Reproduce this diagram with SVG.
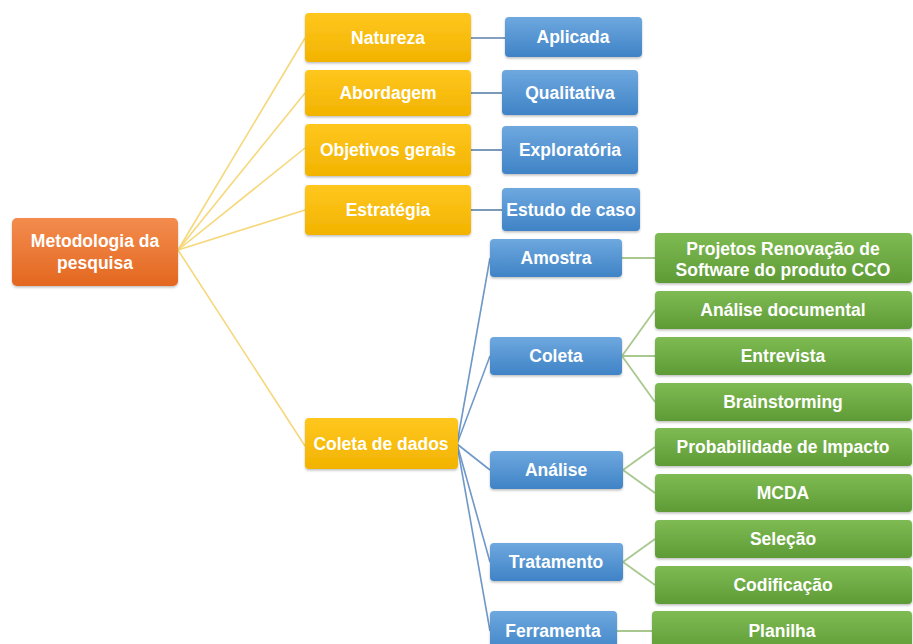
<svg xmlns="http://www.w3.org/2000/svg" width="913" height="644" viewBox="0 0 913 644">
  <defs>
    <linearGradient id="gOrange" x1="0" y1="0" x2="0" y2="1">
      <stop offset="0" stop-color="#F38C4E"/>
      <stop offset="1" stop-color="#E3671F"/>
    </linearGradient>
    <linearGradient id="gYellow" x1="0" y1="0" x2="0" y2="1">
      <stop offset="0" stop-color="#FFC71E"/>
      <stop offset="1" stop-color="#F2B300"/>
    </linearGradient>
    <linearGradient id="gBlue" x1="0" y1="0" x2="0" y2="1">
      <stop offset="0" stop-color="#6EA8DF"/>
      <stop offset="1" stop-color="#3F83C6"/>
    </linearGradient>
    <linearGradient id="gGreen" x1="0" y1="0" x2="0" y2="1">
      <stop offset="0" stop-color="#7FBB53"/>
      <stop offset="1" stop-color="#5E9B36"/>
    </linearGradient>
    <filter id="shadow" x="-10%" y="-20%" width="120%" height="150%">
      <feDropShadow dx="0" dy="1.5" stdDeviation="1.2" flood-color="#000" flood-opacity="0.25"/>
    </filter>
  </defs>
  <style>
    .box { filter: url(#shadow); }
    .orange { fill: url(#gOrange); }
    .yellow { fill: url(#gYellow); }
    .blue { fill: url(#gBlue); }
    .green { fill: url(#gGreen); }
    text { font-family: "Liberation Sans", Arial, sans-serif; font-weight: bold; font-size: 17.5px; fill: #FFFFFF; text-anchor: middle; }
    .lnY { stroke: #F6D77A; stroke-width: 1.6; fill: none; }
    .lnD { stroke: #5B80A8; stroke-width: 1.6; fill: none; }
    .lnB { stroke: #6E98C8; stroke-width: 1.6; fill: none; }
    .lnG { stroke: #A8C890; stroke-width: 1.8; fill: none; }
  </style>
  <rect width="913" height="644" fill="#FFFFFF"/>

  <!-- connectors -->
  <g id="connectors">
    <line class="lnY" x1="178" y1="250" x2="305" y2="38"/>
    <line class="lnY" x1="178" y1="250" x2="305" y2="93"/>
    <line class="lnY" x1="178" y1="250" x2="305" y2="148"/>
    <line class="lnY" x1="178" y1="250" x2="305" y2="210"/>
    <line class="lnY" x1="178" y1="250" x2="305" y2="446"/>

    <line class="lnD" x1="471" y1="38" x2="505" y2="38"/>
    <line class="lnD" x1="471" y1="93" x2="502" y2="93"/>
    <line class="lnD" x1="471" y1="150" x2="502" y2="150"/>
    <line class="lnD" x1="471" y1="210" x2="502" y2="210"/>

    <line class="lnB" x1="457" y1="444" x2="490" y2="258"/>
    <line class="lnB" x1="457" y1="444" x2="490" y2="356"/>
    <line class="lnB" x1="457" y1="444" x2="490" y2="470"/>
    <line class="lnB" x1="457" y1="444" x2="490" y2="562"/>
    <line class="lnB" x1="457" y1="444" x2="490" y2="631"/>

    <line class="lnG" x1="622" y1="258" x2="655" y2="258"/>
    <line class="lnG" x1="622" y1="356" x2="655" y2="310"/>
    <line class="lnG" x1="622" y1="356" x2="655" y2="356"/>
    <line class="lnG" x1="622" y1="356" x2="655" y2="402"/>
    <line class="lnG" x1="623" y1="470" x2="655" y2="447"/>
    <line class="lnG" x1="623" y1="470" x2="655" y2="493"/>
    <line class="lnG" x1="623" y1="562" x2="655" y2="539"/>
    <line class="lnG" x1="623" y1="562" x2="655" y2="585"/>
    <line class="lnG" x1="617" y1="631" x2="652" y2="631"/>
  </g>

  <!-- root -->
  <g id="metodologia">
    <rect class="box orange" x="12" y="218" width="166" height="68" rx="5"/>
    <text x="95" y="247">Metodologia da</text>
    <text x="95" y="269">pesquisa</text>
  </g>

  <!-- first level -->
  <g id="natureza">
    <rect class="box yellow" x="305" y="13" width="166" height="49" rx="4"/>
    <text x="388" y="44">Natureza</text>
  </g>
  <g id="abordagem">
    <rect class="box yellow" x="305" y="70" width="166" height="46" rx="4"/>
    <text x="388" y="99">Abordagem</text>
  </g>
  <g id="objetivos-gerais">
    <rect class="box yellow" x="305" y="124" width="166" height="52" rx="4"/>
    <text x="388" y="156">Objetivos gerais</text>
  </g>
  <g id="estrategia">
    <rect class="box yellow" x="305" y="185" width="166" height="50" rx="4"/>
    <text x="388" y="216">Estratégia</text>
  </g>
  <g id="coleta-de-dados">
    <rect class="box yellow" x="305" y="418" width="153" height="51" rx="4"/>
    <text x="381" y="450">Coleta de dados</text>
  </g>

  <!-- second level -->
  <g id="aplicada">
    <rect class="box blue" x="505" y="17" width="137" height="40" rx="4"/>
    <text x="573" y="43">Aplicada</text>
  </g>
  <g id="qualitativa">
    <rect class="box blue" x="502" y="70" width="136" height="45" rx="4"/>
    <text x="570" y="99">Qualitativa</text>
  </g>
  <g id="exploratoria">
    <rect class="box blue" x="502" y="126" width="136" height="48" rx="4"/>
    <text x="570" y="156">Exploratória</text>
  </g>
  <g id="estudo-de-caso">
    <rect class="box blue" x="502" y="188" width="138" height="43" rx="4"/>
    <text x="571" y="216">Estudo de caso</text>
  </g>
  <g id="amostra">
    <rect class="box blue" x="490" y="239" width="132" height="38" rx="4"/>
    <text x="556" y="264">Amostra</text>
  </g>
  <g id="coleta">
    <rect class="box blue" x="490" y="337" width="132" height="38" rx="4"/>
    <text x="556" y="362">Coleta</text>
  </g>
  <g id="analise">
    <rect class="box blue" x="490" y="451" width="133" height="38" rx="4"/>
    <text x="556" y="476">Análise</text>
  </g>
  <g id="tratamento">
    <rect class="box blue" x="490" y="543" width="133" height="38" rx="4"/>
    <text x="556" y="568">Tratamento</text>
  </g>
  <g id="ferramenta">
    <rect class="box blue" x="490" y="611" width="127" height="42" rx="4"/>
    <text x="553" y="637">Ferramenta</text>
  </g>

  <!-- third level -->
  <g id="projetos">
    <rect class="box green" x="655" y="233" width="257" height="50" rx="4"/>
    <text x="783" y="255">Projetos Renovação de</text>
    <text x="783" y="276">Software do produto CCO</text>
  </g>
  <g id="analise-documental">
    <rect class="box green" x="655" y="291" width="257" height="38" rx="4"/>
    <text x="783" y="316">Análise documental</text>
  </g>
  <g id="entrevista">
    <rect class="box green" x="655" y="337" width="257" height="38" rx="4"/>
    <text x="783" y="362">Entrevista</text>
  </g>
  <g id="brainstorming">
    <rect class="box green" x="655" y="383" width="257" height="38" rx="4"/>
    <text x="783" y="408">Brainstorming</text>
  </g>
  <g id="probabilidade">
    <rect class="box green" x="655" y="428" width="257" height="38" rx="4"/>
    <text x="783" y="453">Probabilidade de Impacto</text>
  </g>
  <g id="mcda">
    <rect class="box green" x="655" y="474" width="257" height="38" rx="4"/>
    <text x="783" y="499">MCDA</text>
  </g>
  <g id="selecao">
    <rect class="box green" x="655" y="520" width="257" height="38" rx="4"/>
    <text x="783" y="545">Seleção</text>
  </g>
  <g id="codificacao">
    <rect class="box green" x="655" y="566" width="257" height="38" rx="4"/>
    <text x="783" y="591">Codificação</text>
  </g>
  <g id="planilha">
    <rect class="box green" x="652" y="611" width="260" height="42" rx="4"/>
    <text x="782" y="637">Planilha</text>
  </g>
</svg>
